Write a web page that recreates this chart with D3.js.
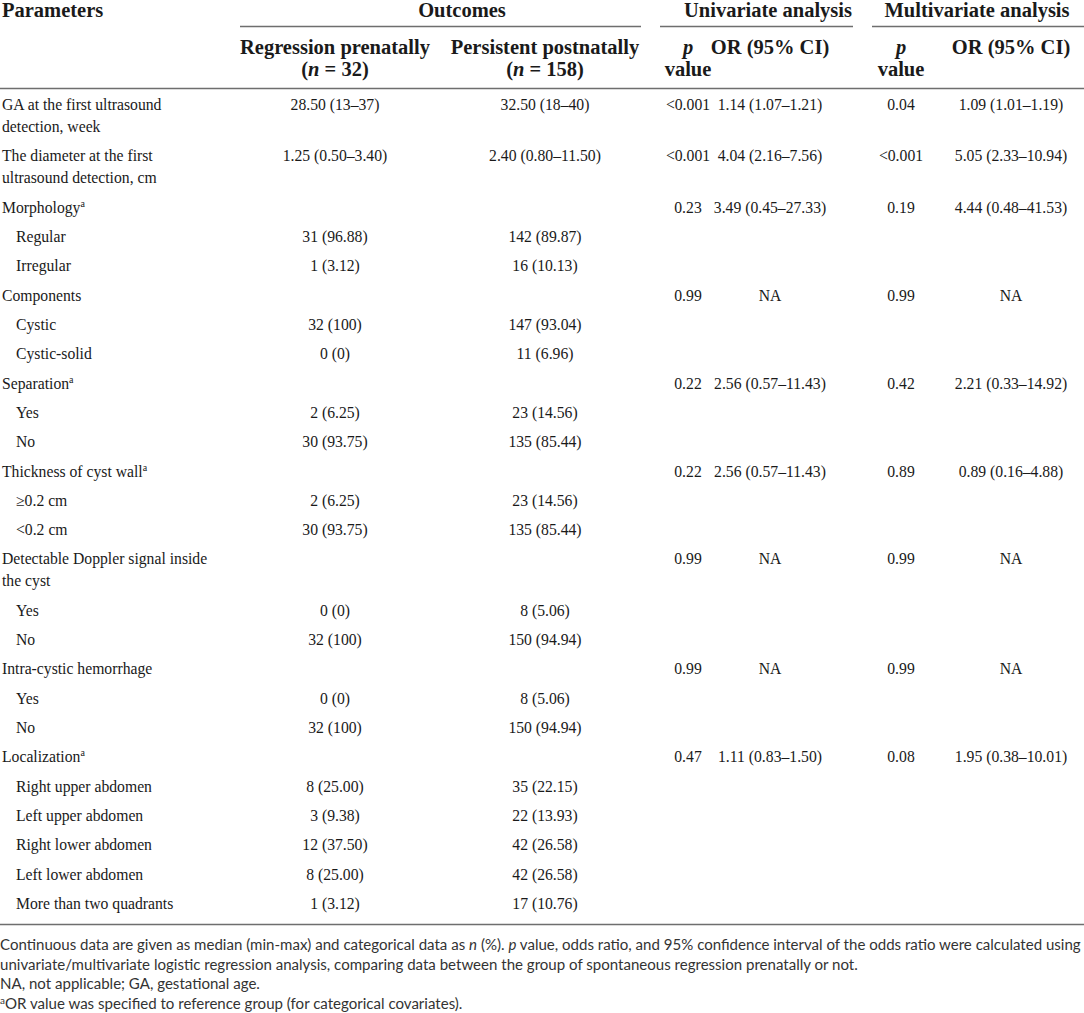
<!DOCTYPE html>
<html>
<head>
<meta charset="utf-8">
<script src="https://cdn.jsdelivr.net/npm/d3@7/dist/d3.min.js"></script>
<style>
  html, body { margin: 0; padding: 0; background: #fff; }
  svg { display: block; }
</style>
</head>
<body>
<svg id="chart" width="1084" height="1013"></svg>
<script>
// ---------------- DATA ----------------
const groupHeaders = ["Outcomes", "Univariate analysis", "Multivariate analysis"];
const colKeys = ["param", "regression", "persistent", "uniP", "uniOR", "multiP", "multiOR"];

const paramLabels = [
  ["GA at the first ultrasound", "detection, week"],
  ["The diameter at the first", "ultrasound detection, cm"],
  ["Morphology"], ["Regular"], ["Irregular"],
  ["Components"], ["Cystic"], ["Cystic-solid"],
  ["Separation"], ["Yes"], ["No"],
  ["Thickness of cyst wall"], ["≥0.2 cm"], ["<0.2 cm"],
  ["Detectable Doppler signal inside", "the cyst"], ["Yes"], ["No"],
  ["Intra-cystic hemorrhage"], ["Yes"], ["No"],
  ["Localization"], ["Right upper abdomen"], ["Left upper abdomen"],
  ["Right lower abdomen"], ["Left lower abdomen"], ["More than two quadrants"]
];
const paramIndent = [0,0,0,1,1,0,1,1,0,1,1,0,1,1,0,1,1,0,1,1,0,1,1,1,1,1];
const paramSup    = [0,0,1,0,0,0,0,0,1,0,0,1,0,0,0,0,0,0,0,0,1,0,0,0,0,0];

const regression = ["28.50 (13–37)", "1.25 (0.50–3.40)", "", "31 (96.88)", "1 (3.12)", "", "32 (100)", "0 (0)", "",
  "2 (6.25)", "30 (93.75)", "", "2 (6.25)", "30 (93.75)", "", "0 (0)", "32 (100)", "", "0 (0)", "32 (100)", "",
  "8 (25.00)", "3 (9.38)", "12 (37.50)", "8 (25.00)", "1 (3.12)"];
const persistent = ["32.50 (18–40)", "2.40 (0.80–11.50)", "", "142 (89.87)", "16 (10.13)", "", "147 (93.04)", "11 (6.96)", "",
  "23 (14.56)", "135 (85.44)", "", "23 (14.56)", "135 (85.44)", "", "8 (5.06)", "150 (94.94)", "", "8 (5.06)", "150 (94.94)", "",
  "35 (22.15)", "22 (13.93)", "42 (26.58)", "42 (26.58)", "17 (10.76)"];
const uniP = ["<0.001", "<0.001", "0.23", "", "", "0.99", "", "", "0.22", "", "", "0.22", "", "", "0.99", "", "", "0.99", "", "", "0.47", "", "", "", "", ""];
const uniOR = ["1.14 (1.07–1.21)", "4.04 (2.16–7.56)", "3.49 (0.45–27.33)", "", "", "NA", "", "", "2.56 (0.57–11.43)", "", "",
  "2.56 (0.57–11.43)", "", "", "NA", "", "", "NA", "", "", "1.11 (0.83–1.50)", "", "", "", "", ""];
const multiP = ["0.04", "<0.001", "0.19", "", "", "0.99", "", "", "0.42", "", "", "0.89", "", "", "0.99", "", "", "0.99", "", "", "0.08", "", "", "", "", ""];
const multiOR = ["1.09 (1.01–1.19)", "5.05 (2.33–10.94)", "4.44 (0.48–41.53)", "", "", "NA", "", "", "2.21 (0.33–14.92)", "", "",
  "0.89 (0.16–4.88)", "", "", "NA", "", "", "NA", "", "", "1.95 (0.38–10.01)", "", "", "", "", ""];

const footnotes = [
  [["Continuous data are given as median (min-max) and categorical data as ", 0], ["n", 1], [" (%). ", 0], ["p", 1],
   [" value, odds ratio, and 95% confidence interval of the odds ratio were calculated using", 0]],
  [["univariate/multivariate logistic regression analysis, comparing data between the group of spontaneous regression prenatally or not.", 0]],
  [["NA, not applicable; GA, gestational age.", 0]],
  [["a", 2], ["OR value was specified to reference group (for categorical covariates).", 0]]
];

// ---------------- LAYOUT ----------------
const W = 1084, H = 1013;
const svg = d3.select("#chart");
const serif = "'Liberation Serif', 'Times New Roman', serif";
const sans = "Lato, 'Open Sans', sans-serif";
const textColor = "#1a1a1a";
const ruleColor = "#6e6e6e";

const xCol = d3.scaleOrdinal().domain(colKeys).range([2, 335, 545, 688, 770, 901, 1011]);

// vertical: cumulative units (1 unit per row, +0.75 per extra label line)
const units = [];
let u = 0;
paramLabels.forEach((lab, i) => {
  units.push(u);
  u += 1 + (lab.length - 1) * 0.75;
});
const yRow = d3.scaleLinear().domain([0, units[units.length - 1]]).range([110, 909]);
const lineStep = yRow(0.75) - yRow(0);

// ---------------- HEADER ----------------
const hdrSize = 20.5;
const g = svg.append("g");

g.append("text").attr("x", 2).attr("y", 17)
  .attr("font-family", serif).attr("font-weight", "bold").attr("font-size", hdrSize)
  .attr("fill", textColor).text("Parameters");

const groupSpans = [
  { label: groupHeaders[0], x0: 240, x1: 641, cx: 462 },
  { label: groupHeaders[1], x0: 660, x1: 853, cx: 768 },
  { label: groupHeaders[2], x0: 872, x1: 1084, cx: 977 }
];
groupSpans.forEach(s => {
  g.append("text").attr("x", s.cx).attr("y", 17)
    .attr("text-anchor", "middle").attr("font-family", serif).attr("font-weight", "bold")
    .attr("font-size", hdrSize).attr("fill", textColor).text(s.label);
  g.append("line").attr("x1", s.x0).attr("x2", s.x1).attr("y1", 26.5).attr("y2", 26.5)
    .attr("stroke", ruleColor).attr("stroke-width", 1.4);
});

const subHeaders = [
  { key: "regression", l1: [["Regression prenatally", 0]], l2: [["(", 0], ["n", 1], [" = 32)", 0]] },
  { key: "persistent", l1: [["Persistent postnatally", 0]], l2: [["(", 0], ["n", 1], [" = 158)", 0]] },
  { key: "uniP", l1: [["p", 1]], l2: [["value", 0]] },
  { key: "uniOR", l1: [["OR (95% CI)", 0]], l2: [] },
  { key: "multiP", l1: [["p", 1]], l2: [["value", 0]] },
  { key: "multiOR", l1: [["OR (95% CI)", 0]], l2: [] }
];
function addRich(sel, parts) {
  parts.forEach(p => {
    const t = sel.append("tspan").text(p[0]);
    if (p[1] === 1) t.attr("font-style", "italic");
  });
}
subHeaders.forEach(h => {
  const cx = xCol(h.key);
  const t1 = g.append("text").attr("x", cx).attr("y", 54).attr("text-anchor", "middle")
    .attr("font-family", serif).attr("font-weight", "bold").attr("font-size", hdrSize).attr("fill", textColor);
  addRich(t1, h.l1);
  if (h.l2.length) {
    const t2 = g.append("text").attr("x", cx).attr("y", 76).attr("text-anchor", "middle")
      .attr("font-family", serif).attr("font-weight", "bold").attr("font-size", hdrSize).attr("fill", textColor);
    addRich(t2, h.l2);
  }
});

g.append("line").attr("x1", 0).attr("x2", W).attr("y1", 88.5).attr("y2", 88.5)
  .attr("stroke", ruleColor).attr("stroke-width", 1.6);

// ---------------- BODY ----------------
const bodySize = 15.7;
const body = svg.append("g").attr("font-family", serif).attr("font-size", bodySize).attr("fill", textColor);

paramLabels.forEach((lab, i) => {
  const y0 = yRow(units[i]);
  lab.forEach((line, j) => {
    const t = body.append("text")
      .attr("x", xCol("param") + (paramIndent[i] ? 14 : 0))
      .attr("y", y0 + j * lineStep)
      .text(line);
    if (paramSup[i] && j === lab.length - 1) {
      t.append("tspan").attr("font-size", 10).attr("dy", -6).text("a");
    }
  });
});

const valueCols = [
  ["regression", regression], ["persistent", persistent], ["uniP", uniP],
  ["uniOR", uniOR], ["multiP", multiP], ["multiOR", multiOR]
];
valueCols.forEach(([key, arr]) => {
  body.selectAll(null).data(arr.map((v, i) => ({ v, i })).filter(d => d.v !== ""))
    .enter().append("text")
    .attr("x", xCol(key))
    .attr("y", d => yRow(units[d.i]))
    .attr("text-anchor", "middle")
    .text(d => d.v);
});

g.append("line").attr("x1", 0).attr("x2", W).attr("y1", 924.5).attr("y2", 924.5)
  .attr("stroke", ruleColor).attr("stroke-width", 1.6);

// ---------------- FOOTNOTES ----------------
const fnY = d3.scaleLinear().domain([0, 3]).range([950, 1009]);
const fn = svg.append("g").attr("font-family", sans).attr("font-size", 13.6).attr("fill", "#333");
footnotes.forEach((parts, i) => {
  const t = fn.append("text").attr("x", 0).attr("y", fnY(i));
  parts.forEach(p => {
    const s = t.append("tspan").text(p[0]);
    if (p[1] === 1) s.attr("font-style", "italic");
    if (p[1] === 2) s.attr("class", "sup").attr("dy", -5);
    if (p[1] === 0 && i === 3) s.attr("dy", 5);
  });
});
// fit first footnote line to the full table width
const first = fn.select("text").node();
const wFirst = first.getComputedTextLength();
const fs = 13.6 * 1081 / wFirst;
fn.attr("font-size", fs);
fn.selectAll("tspan.sup").attr("font-size", fs * 0.66);
</script>
</body>
</html>
